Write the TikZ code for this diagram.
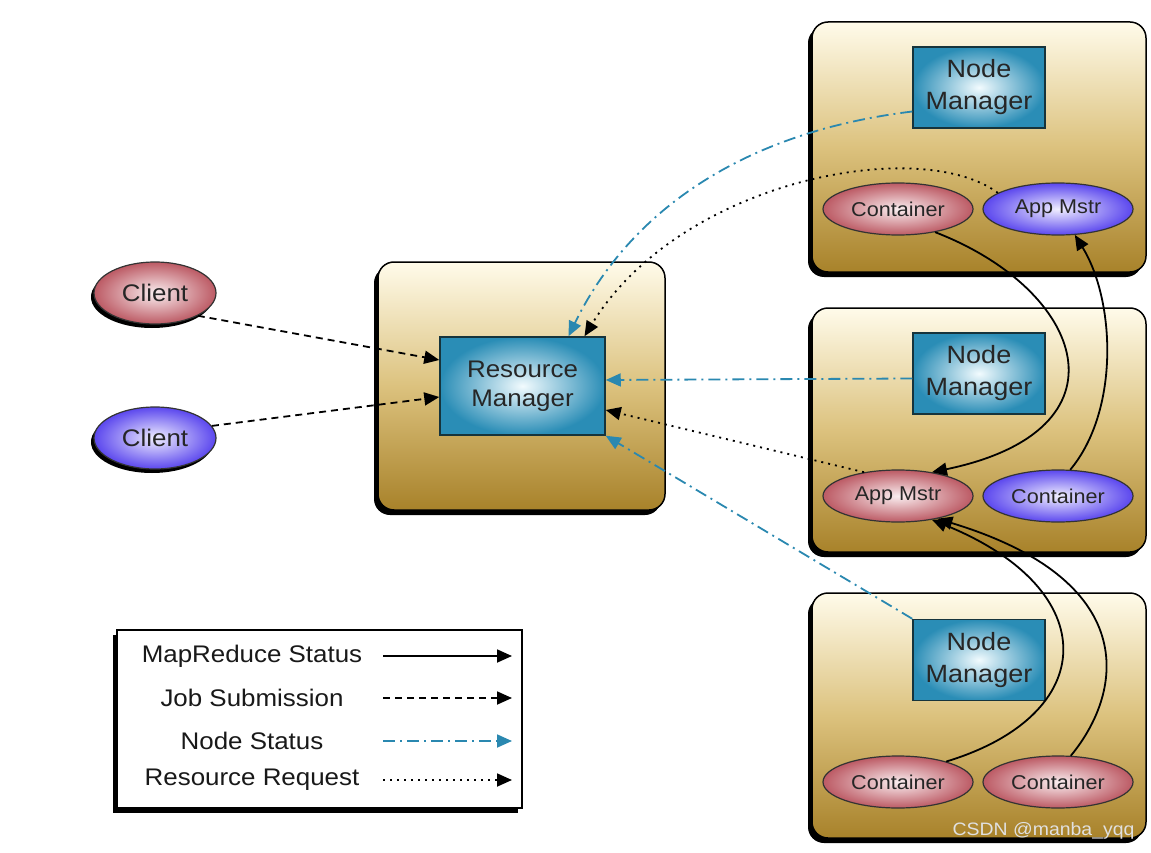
\documentclass[tikz,border=0pt]{standalone}
\usepackage{fontspec}
\setsansfont{Liberation Sans}[FakeStretch=1.08]
\usetikzlibrary{arrows.meta,shadows,shapes.geometric,positioning}

\definecolor{hosttop}{HTML}{FFFBEA}
\definecolor{hostmid}{HTML}{DCC27E}
\definecolor{hostbot}{HTML}{A8822A}
\definecolor{mgrin}{HTML}{F2FBFE}
\definecolor{mgrout}{HTML}{2A8DB6}
\definecolor{mgredge}{HTML}{16343C}
\definecolor{pinkin}{HTML}{FAEEF0}
\definecolor{pinkout}{HTML}{BC5A64}
\definecolor{bluein}{HTML}{F0EEFF}
\definecolor{blueout}{HTML}{5B47EE}
\definecolor{nsblue}{HTML}{2A88B0}

\tikzset{
  host/.style={draw=black, line width=1.5pt, rounded corners=16pt,
    top color=hosttop, bottom color=hostbot, middle color=hostmid,
    drop shadow={shadow xshift=-4pt, shadow yshift=-5pt, fill=black, opacity=1}},
  mgr/.style={draw=mgredge, line width=1.5pt, inner color=mgrin, outer color=mgrout,
    align=center, text=black!85},
  redproc/.style={ellipse, draw=black!80, line width=1.2pt, inner color=pinkin,
    outer color=pinkout, minimum width=150pt, minimum height=52pt,
    text=black!85, font=\sffamily\fontsize{20}{24}\selectfont},
  blueproc/.style={redproc, inner color=bluein, outer color=blueout},
  client/.style={minimum width=122pt, minimum height=62pt,
    font=\sffamily\fontsize{24}{28}\selectfont,
    drop shadow={shadow xshift=-3pt, shadow yshift=-4pt, fill=black, opacity=1}},
  legtext/.style={font=\sffamily\fontsize{24}{28}\selectfont, text=black!90},
  mrstatus/.style={line width=1.8pt, -{Triangle[length=15pt,width=13pt]}},
  jobsub/.style={mrstatus, dash pattern=on 7pt off 5pt},
  nodestat/.style={mrstatus, color=nsblue, dash pattern=on 12pt off 5pt on 2pt off 5pt},
  resreq/.style={mrstatus, dash pattern=on 2pt off 5pt},
}

\begin{document}
\begin{tikzpicture}[x=1pt,y=-1pt]
  \useasboundingbox (0,0) rectangle (1151,853);

  % resource manager
  \node[host, minimum width=287pt, minimum height=248pt] (rmhost) at (521.5,386) {};
  \node[mgr, minimum width=165pt, minimum height=98pt,
        font=\sffamily\fontsize{24}{29}\selectfont] (rm) at (522.5,386) {Resource\\Manager};

  % clients
  \node[redproc, client] (c1) at (155,293) {Client};
  \node[blueproc, client] (c2) at (155,438) {Client};

  % node hosts
  \node[host, minimum width=334pt, minimum height=250pt] (host1) at (979,147) {};
  \node[host, minimum width=334pt, minimum height=244pt] (host2) at (979,430) {};
  \node[host, minimum width=334pt, minimum height=245pt] (host3) at (979,715.5) {};

  \node[mgr, minimum width=132pt, minimum height=81pt,
        font=\sffamily\fontsize{25}{32}\selectfont] (nm1) at (979,87.5) {Node\\Manager};
  \node[mgr, minimum width=132pt, minimum height=81pt,
        font=\sffamily\fontsize{25}{32}\selectfont] (nm2) at (979,373.5) {Node\\Manager};
  \node[mgr, minimum width=132pt, minimum height=81pt,
        font=\sffamily\fontsize{25}{32}\selectfont] (nm3) at (979,660) {Node\\Manager};

  \node[redproc] (ct1) at (898,209) {Container};
  \node[blueproc] (am1) at (1058,209) {App Mstr};
  \node[redproc] (am2) at (898,496) {App Mstr};
  \node[blueproc] (cm2) at (1058,496) {Container};
  \node[redproc] (cb1) at (898,782) {Container};
  \node[redproc] (cb2) at (1058,782) {Container};

  % job submission
  \draw[jobsub] (c1.-28) -- ([yshift=26pt]rm.west);
  \draw[jobsub] (c2.12) -- ([yshift=-11pt]rm.west);

  % node status
  \draw[nodestat] ([yshift=-24pt]nm1.west) .. controls (720,135) and (620,230) .. ([xshift=46pt]rm.north);
  \draw[nodestat] ([yshift=-5pt]nm2.west) -- ([yshift=6pt]rm.east);
  \draw[nodestat] (nm3.north west) -- (rm.south east);

  % resource requests
  \draw[resreq] (am1.165) .. controls (920,135) and (680,180) .. ([xshift=62pt]rm.north);
  \draw[resreq] (am2.145) -- ([yshift=-24pt]rm.east);

  % mapreduce status
  \draw[mrstatus] (ct1.-32) .. controls (1085,290) and (1135,430) .. (am2.35);
  \draw[mrstatus] (cm2.65) .. controls (1120,410) and (1115,300) .. (am1.-57);
  \draw[mrstatus] (cb1.23) .. controls (1100,715) and (1105,590) .. (am2.-35);
  \draw[mrstatus] (cb2.64) .. controls (1125,690) and (1140,580) .. (am2.-30);

  % legend
  \node[draw=black, line width=1.5pt, fill=white, minimum width=405pt, minimum height=178pt,
        drop shadow={shadow xshift=-4pt, shadow yshift=-5pt, fill=black, opacity=1}] (legend) at (319.5,719) {};
  \node[legtext] (lg1) at (252,656) {MapReduce Status};
  \node[legtext] (lg2) at (252,698) {Job Submission};
  \node[legtext] (lg3) at (252,741) {Node Status};
  \node[legtext] (lg4) at (252,780) {Resource Request};
  \coordinate (l1s) at (383,656); \coordinate (l1e) at (512,656);
  \coordinate (l2s) at (383,698); \coordinate (l2e) at (512,698);
  \coordinate (l3s) at (383,741); \coordinate (l3e) at (512,741);
  \coordinate (l4s) at (383,780); \coordinate (l4e) at (512,780);
  \draw[mrstatus] (l1s) -- (l1e);
  \draw[jobsub] (l2s) -- (l2e);
  \draw[nodestat] (l3s) -- (l3e);
  \draw[resreq] (l4s) -- (l4e);

  % watermark
  \node[anchor=east, text=white!88!black, font=\sffamily\fontsize{18}{20}\selectfont] (mark) at (1138,831) {CSDN @manba\_yqq};
\end{tikzpicture}
\end{document}
